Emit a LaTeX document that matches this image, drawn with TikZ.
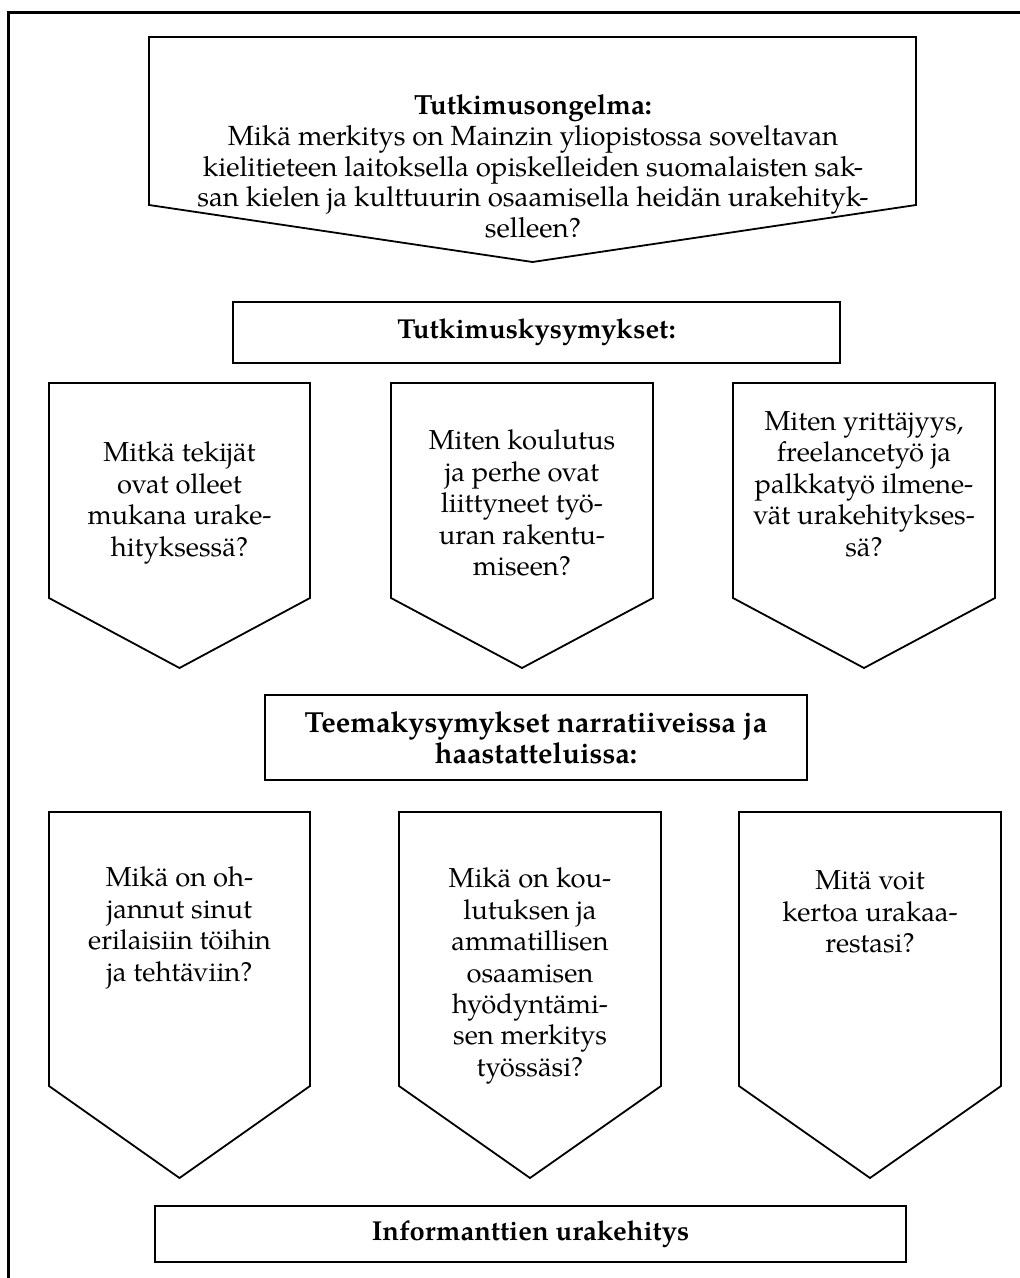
\documentclass[tikz,border=0pt]{standalone}
\usepackage{fontspec}
\setmainfont{texgyrepagella}[Extension=.otf, UprightFont=*-regular, BoldFont=*-bold, ItalicFont=*-italic, BoldItalicFont=*-bolditalic]

\tikzset{
  frameline/.style={line width=1.2pt},
  shapeline/.style={line width=0.9pt, line join=miter},
  toptext/.style={align=center, inner sep=0pt, font=\fontsize{13.85}{15.4}\selectfont},
  qtext/.style={align=center, inner sep=0pt, font=\fontsize{13.7}{15.7}\selectfont},
  headbox/.style={draw, line width=1pt, inner sep=0pt, align=center,
    font=\fontsize{13.7}{15.5}\selectfont\bfseries}
}

% pentagon pointing down: left x, right x, top y, side bottom y, tip y
\newcommand\downarrowshape[5]{%
  \draw[shapeline] (#1,#3) -- (#2,#3) -- (#2,#4) -- ({(#1+#2)/2},#5) -- (#1,#4) -- cycle;}

\begin{document}
\begin{tikzpicture}[x=0.5pt, y=-0.5pt]
\useasboundingbox (0,0) rectangle (1020,1278);

% outer frame
\draw[frameline] (8.5,1278) -- (8.5,12.5) -- (1020,12.5);

% research problem
\downarrowshape{149}{916}{37}{205}{262}
\node[toptext] (problem) at (533,166.5) {\textbf{Tutkimusongelma:}\\
  Mikä merkitys on Mainzin yliopistossa soveltavan\\
  kielitieteen laitoksella opiskelleiden suomalaisten sak-\\
  san kielen ja kulttuurin osaamisella heidän urakehityk-\\
  selleen?};

% research questions
\node[headbox, minimum width=303.5pt, minimum height=30.5pt] (rq) at (536.5,332.5) {Tutkimuskysymykset:};

\downarrowshape{49}{310}{383}{598}{668}
\node[qtext] (rq1) at (179.5,503) {Mitkä tekijät\\ ovat olleet\\ mukana urake-\\ hityksessä?};

\downarrowshape{391}{653}{383}{598}{668}
\node[qtext] (rq2) at (522,503) {Miten koulutus\\ ja perhe ovat\\ liittyneet työ-\\ uran rakentu-\\ miseen?};

\downarrowshape{733}{995}{383}{598}{668}
\node[qtext] (rq3) at (864,484) {Miten yrittäjyys,\\ freelancetyö ja\\ palkkatyö ilmene-\\ vät urakehitykses-\\ sä?};

% theme questions
\node[headbox, minimum width=271pt, minimum height=42.5pt,
      font=\fontsize{14.5}{15.5}\selectfont\bfseries] (tq) at (536,737.5)
  {Teemakysymykset narratiiveissa ja\\ haastatteluissa:};

\downarrowshape{49}{310}{812}{1086}{1178}
\node[qtext] (tq1) at (179.5,928) {Mikä on oh-\\ jannut sinut\\ erilaisiin töihin\\ ja tehtäviin?};

\downarrowshape{399}{661}{812}{1086}{1178}
\node[qtext] (tq2) at (530,976) {Mikä on kou-\\ lutuksen ja\\ ammatillisen\\ osaamisen\\ hyödyntämi-\\ sen merkitys\\ työssäsi?};

\downarrowshape{739}{1001}{812}{1086}{1178}
\node[qtext] (tq3) at (870,912) {Mitä voit\\ kertoa urakaa-\\ restasi?};

% outcome
\node[headbox, minimum width=375.5pt, minimum height=28pt] (career) at (530.5,1234) {Informanttien urakehitys};
\end{tikzpicture}
\end{document}
